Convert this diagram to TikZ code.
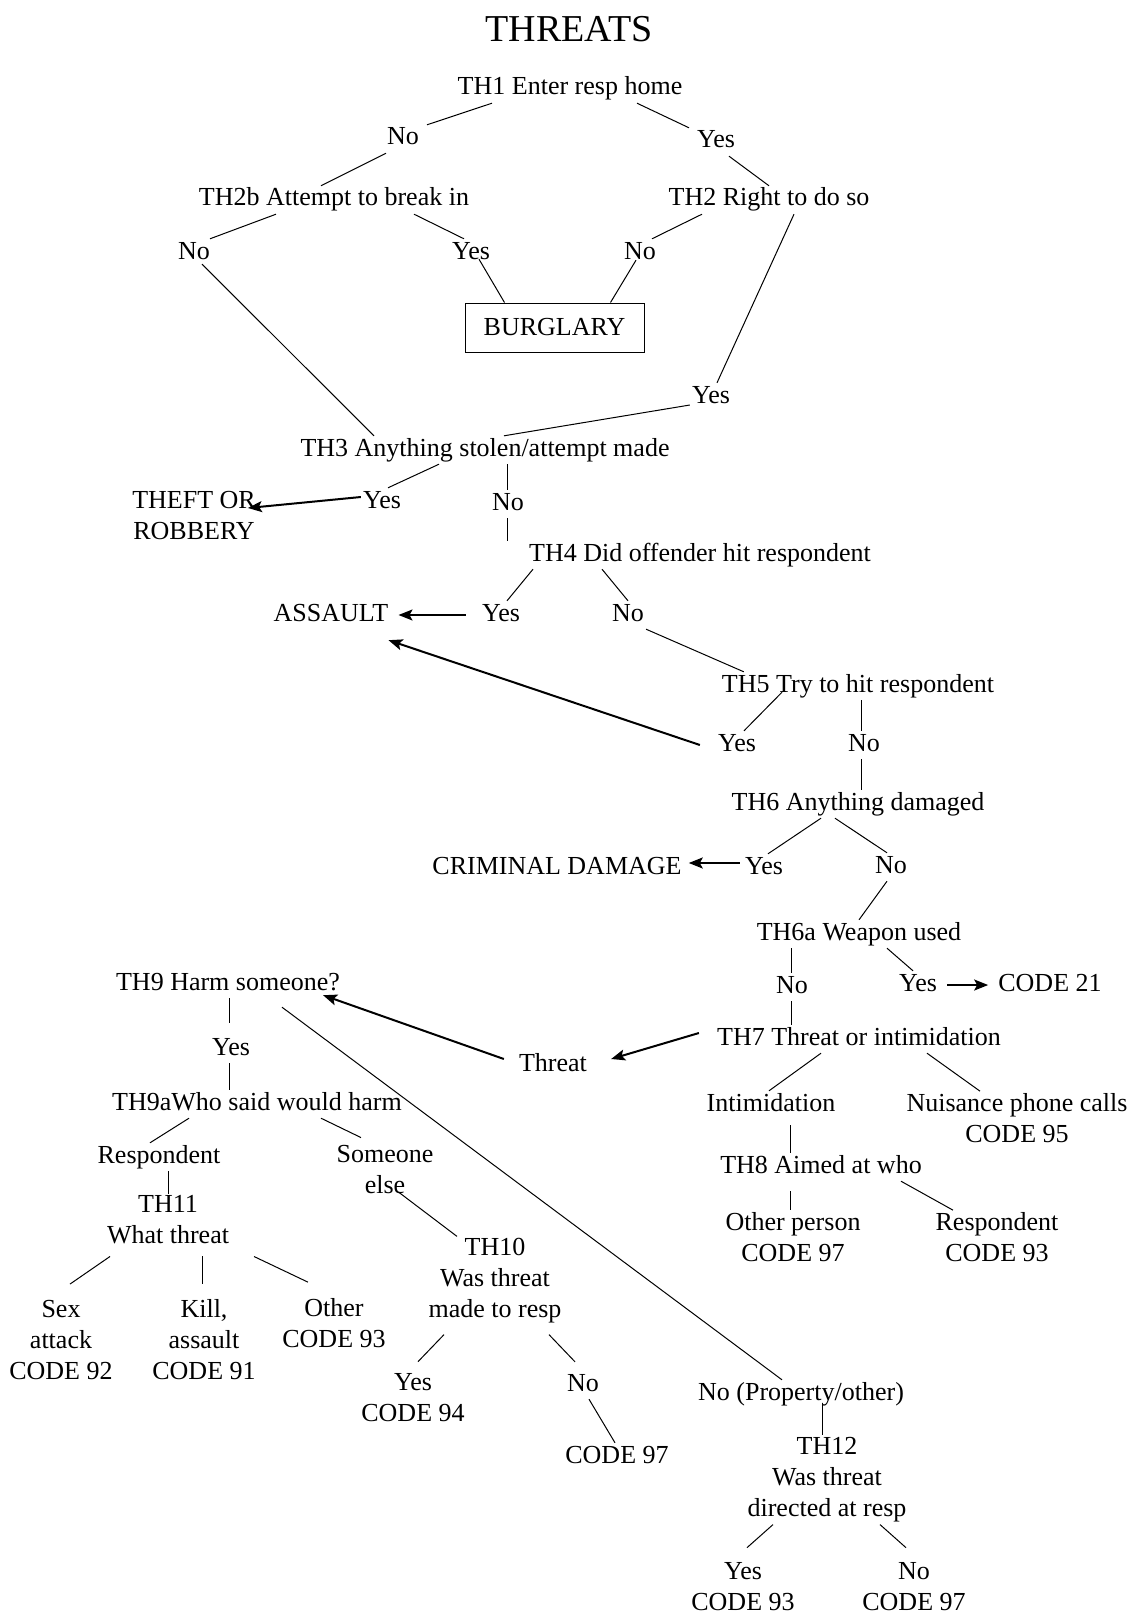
\documentclass[tikz,border=0pt]{standalone}
\usepackage{fontspec}
\setmainfont{Liberation Serif}
\usetikzlibrary{arrows.meta}

\tikzset{
    txt/.style={font=\fontsize{26}{31}\selectfont, inner sep=2pt, text height=18pt, text depth=6pt},
    blk/.style={font=\fontsize{26}{31}\selectfont, inner sep=2pt, align=center},
    box/.style={draw, line width=1pt, minimum width=179pt, minimum height=49pt, inner sep=2pt, font=\fontsize{26}{31}\selectfont},
    link/.style={line width=1pt},
    arr/.style={line width=2pt, -{Stealth[length=14pt,width=11pt,inset=3pt]}}
}

\begin{document}
\begin{tikzpicture}[x=1pt, y=-1pt]
    \useasboundingbox (0,0) rectangle (1132,1616);
    \node[font=\fontsize{38}{44}\selectfont] (title) at (569,29) {THREATS};
    \node[txt] (th1) at (570,89) {TH1 Enter resp home};
    \node[txt] (th1no) at (403,139) {No};
    \node[txt] (th1yes) at (716,142) {Yes};
    \node[txt] (th2b) at (334,200) {TH2b Attempt to break in};
    \node[txt] (th2) at (769,200) {TH2 Right to do so};
    \node[txt] (th2bno) at (194,253) {No};
    \node[txt] (th2byes) at (471,253) {Yes};
    \node[txt] (th2no) at (640,253) {No};
    \node[box] (burglary) at (554.5,327.5) {BURGLARY};
    \node[txt] (th2yes) at (711,397) {Yes};
    \node[txt] (th3) at (485,450) {TH3 Anything stolen/attempt made};
    \node[blk] (theft) at (194,516) {THEFT OR\\ROBBERY};
    \node[txt] (th3yes) at (382,502) {Yes};
    \node[txt] (th3no) at (508,504) {No};
    \node[txt] (th4) at (700,555) {TH4 Did offender hit respondent};
    \node[txt] (assault) at (331,615) {ASSAULT};
    \node[txt] (th4yes) at (501,615) {Yes};
    \node[txt] (th4no) at (628,615) {No};
    \node[txt] (th5) at (858,686) {TH5 Try to hit respondent};
    \node[txt] (th5yes) at (737,745) {Yes};
    \node[txt] (th5no) at (864,745) {No};
    \node[txt] (th6) at (858,804) {TH6 Anything damaged};
    \node[txt] (damage) at (557,868) {CRIMINAL DAMAGE};
    \node[txt] (th6yes) at (764,868) {Yes};
    \node[txt] (th6no) at (891,867) {No};
    \node[txt] (th6a) at (859,934) {TH6a Weapon used};
    \node[txt] (th6ano) at (792,987) {No};
    \node[txt] (th6ayes) at (918,985) {Yes};
    \node[txt] (code21) at (1050,985) {CODE 21};
    \node[txt] (th9) at (228,984) {TH9 Harm someone?};
    \node[txt] (th7) at (859,1039) {TH7 Threat or intimidation};
    \node[txt] (threat) at (553,1065) {Threat};
    \node[txt] (th9yes) at (231,1049) {Yes};
    \node[txt] (th9a) at (257,1104) {TH9aWho said would harm};
    \node[txt] (intim) at (771,1105) {Intimidation};
    \node[blk] (nuisance) at (1017,1118) {Nuisance phone calls\\CODE 95};
    \node[txt] (th9aresp) at (159,1157) {Respondent};
    \node[blk] (th9aelse) at (385,1170) {Someone\\else};
    \node[txt] (th8) at (821,1167) {TH8 Aimed at who};
    \node[blk] (th11) at (168,1220) {TH11\\What threat};
    \node[blk] (th8other) at (793,1237) {Other person\\CODE 97};
    \node[blk] (th8resp) at (997,1237) {Respondent\\CODE 93};
    \node[blk] (th10) at (495,1281) {TH10\\Was threat\\made to resp};
    \node[blk] (th11sex) at (61,1340) {Sex\\attack\\CODE 92};
    \node[blk] (th11kill) at (204,1340) {Kill,\\assault\\CODE 91};
    \node[blk] (th11other) at (334,1323) {Other\\CODE 93};
    \node[blk] (th10yes) at (413,1398) {Yes\\CODE 94};
    \node[txt] (th10no) at (583,1385) {No};
    \node[txt] (th10code) at (617,1457) {CODE 97};
    \node[txt] (th9no) at (801,1394) {No (Property/other)};
    \node[blk] (th12) at (827,1480) {TH12\\Was threat\\directed at resp};
    \node[blk] (th12yes) at (743,1587) {Yes\\CODE 93};
    \node[blk] (th12no) at (914,1587) {No\\CODE 97};

    \draw[link] ([xshift=-78pt]th1.south) -- ([xshift=24pt]th1no.north);
    \draw[link] ([xshift=67pt]th1.south) -- ([xshift=-27pt]th1yes.north);
    \draw[link] ([xshift=-17pt]th1no.south) -- ([xshift=-13pt]th2b.north);
    \draw[link] ([xshift=13pt]th1yes.south) -- (th2.north);
    \draw[link] ([xshift=-58pt]th2b.south) -- ([xshift=16pt]th2bno.north);
    \draw[link] ([xshift=80pt]th2b.south) -- ([xshift=-7pt]th2byes.north);
    \draw[link] ([xshift=-67pt]th2.south) -- ([xshift=12pt]th2no.north);
    \draw[link] ([xshift=25pt]th2.south) -- ([xshift=6pt]th2yes.north);
    \draw[link] ([xshift=8pt,yshift=8pt]th2byes.south) -- ([xshift=-50pt]burglary.north);
    \draw[link] ([xshift=-4pt,yshift=7pt]th2no.south) -- ([xshift=56pt]burglary.north);
    \draw[link] ([xshift=8pt,yshift=3pt]th2bno.south) -- ([xshift=-111pt]th3.north);
    \draw[link] ([yshift=-8pt]th2yes.west) -- ([xshift=19pt]th3.north);
    \draw[link] ([xshift=-46pt]th3.south) -- ([xshift=6pt]th3yes.north);
    \draw[link] ([xshift=22pt]th3.south) -- ([xshift=-1pt]th3no.north);
    \draw[link] ([xshift=-1pt]th3no.south) -- ([xshift=-1pt]th3no.south |- th4.north);
    \draw[arr] ([yshift=5pt]th3yes.west) -- ([xshift=-10pt,yshift=8pt]theft.east);
    \draw[link] ([xshift=-167pt]th4.south) -- ([xshift=6pt]th4yes.north);
    \draw[link] ([xshift=-98pt]th4.south) -- (th4no.north);
    \draw[arr] ([xshift=-14pt]th4yes.west) -- ([xshift=8pt]assault.east);
    \draw[link] (th4no.south east) -- ([xshift=24pt]th5.north west);
    \draw[link] ([xshift=-76pt,yshift=8pt]th5.south) -- ([xshift=7pt]th5yes.north);
    \draw[link] ([xshift=3pt]th5.south) -- ([xshift=-3pt]th5no.north);
    \draw[arr] ([xshift=-16pt]th5yes.west) -- ([xshift=-2pt,yshift=-11pt]assault.south east);
    \draw[link] ([xshift=-3pt]th5no.south) -- ([xshift=3pt]th6.north);
    \draw[link] ([xshift=-37pt]th6.south) -- ([xshift=4pt]th6yes.north);
    \draw[link] ([xshift=-23pt]th6.south) -- ([xshift=-4pt]th6no.north);
    \draw[arr] ([xshift=-3pt,yshift=5pt]th6yes.west) -- ([xshift=5pt,yshift=5pt]damage.east);
    \draw[link] ([xshift=-4pt]th6no.south) -- (th6a.north);
    \draw[link] ([xshift=-68pt]th6a.south) -- ([xshift=-1pt]th6ano.north);
    \draw[link] ([xshift=28pt]th6a.south) -- ([xshift=-5pt]th6ayes.north);
    \draw[arr] ([xshift=8pt]th6ayes.east) -- ([xshift=-8pt]code21.west);
    \draw[link] ([xshift=-1pt]th6ano.south) -- ([xshift=-68pt]th7.north);
    \draw[arr] ([xshift=-16pt,yshift=6pt]th7.west) -- ([xshift=22pt,yshift=6pt]threat.east);
    \draw[arr] ([xshift=-13pt,yshift=6pt]threat.west) -- ([xshift=-19pt,yshift=3pt]th9.south east);
    \draw[link] ([xshift=1pt]th9.south) -- ([xshift=-2pt,yshift=12pt]th9yes.north);
    \draw[link] ([xshift=-2pt]th9yes.south) -- ([xshift=-28pt]th9a.north);
    \draw[link] ([xshift=54pt,yshift=-9pt]th9.south) -- ([xshift=-19pt]th9no.north);
    \draw[link] ([xshift=-68pt]th9a.south) -- ([xshift=-9pt]th9aresp.north);
    \draw[link] ([xshift=64pt]th9a.south) -- ([xshift=-24pt,yshift=6pt]th9aelse.north);
    \draw[link] ([xshift=9pt]th9aresp.south) -- (th11.north);
    \draw[link] ([xshift=14pt,yshift=4pt]th9aelse.south) -- ([xshift=-38pt]th10.north);
    \draw[link] ([xshift=-58pt,yshift=-10pt]th11.south) -- ([xshift=9pt,yshift=14pt]th11sex.north);
    \draw[link] ([xshift=34pt,yshift=-10pt]th11.south) -- ([xshift=-2pt,yshift=14pt]th11kill.north);
    \draw[link] ([xshift=86pt,yshift=-10pt]th11.south) -- ([xshift=-26pt,yshift=14pt]th11other.north);
    \draw[link] ([xshift=-51pt,yshift=-9pt]th10.south) -- ([xshift=5pt,yshift=10pt]th10yes.north);
    \draw[link] ([xshift=54pt,yshift=-9pt]th10.south) -- ([xshift=-8pt,yshift=9pt]th10no.north);
    \draw[link] ([xshift=6pt]th10no.south) -- ([xshift=-2pt]th10code.north);
    \draw[link] ([xshift=21pt,yshift=5pt]th9no.south) -- ([xshift=-5pt]th12.north);
    \draw[link] ([xshift=-54pt]th12.south) -- ([xshift=4pt,yshift=13pt]th12yes.north);
    \draw[link] ([xshift=53pt]th12.south) -- ([xshift=-8pt,yshift=13pt]th12no.north);
    \draw[link] ([xshift=-38pt]th7.south) -- ([xshift=-2pt]intim.north);
    \draw[link] ([xshift=68pt]th7.south) -- ([xshift=-37pt]nuisance.north);
    \draw[link] ([xshift=19pt,yshift=-6pt]intim.south) -- ([xshift=-31pt]th8.north);
    \draw[link] ([xshift=-31pt,yshift=-10pt]th8.south) -- ([xshift=-3pt]th8other.north);
    \draw[link] ([xshift=80pt]th8.south) -- ([xshift=-44pt]th8resp.north);
\end{tikzpicture}
\end{document}
